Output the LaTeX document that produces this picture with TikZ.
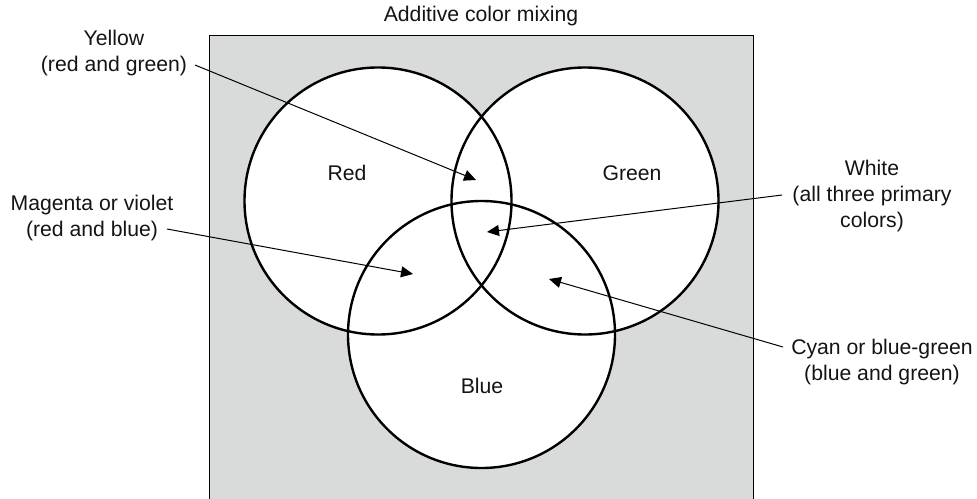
\documentclass[tikz,border=0pt]{standalone}
\usepackage{fontspec}
\setmainfont{Liberation Sans}
\usetikzlibrary{arrows.meta}
\definecolor{boxgray}{RGB}{217,219,218}
\definecolor{inkc}{RGB}{20,20,20}
\tikzset{
  lbl/.style={font=\fontsize{10.6pt}{13pt}\selectfont, text=inkc, align=center, inner sep=0pt},
  ring/.style={draw=black, line width=1.2pt},
  pointer/.style={draw=black, line width=0.5pt, -{Triangle[length=6pt,width=5.5pt]}}
}
\begin{document}
\begin{tikzpicture}[x=0.5pt,y=-0.5pt]
\useasboundingbox (0,0) rectangle (977,498);
% background panel
\fill[boxgray] (209,35) rectangle (753,499);
\draw[line width=0.5pt] (209,499) -- (209,35) -- (753,35) -- (753,499);
% circle interiors
\fill[white] (378,201) circle (133.5);
\fill[white] (585,201) circle (133.5);
\fill[white] (481.5,334.5) circle (133.5);
% circle outlines
\draw[ring] (378,201) circle (133.5);
\draw[ring] (585,201) circle (133.5);
\draw[ring] (481.5,334.5) circle (133.5);
% labels
\node[lbl] (title) at (481,16) {Additive color mixing};
\node[lbl] (red) at (347,173) {Red};
\node[lbl] (green) at (632,173) {Green};
\node[lbl] (blue) at (482,386) {Blue};
\node[lbl] (yel) at (114,53) {Yellow\\(red and green)};
\node[lbl] (mag) at (92,218) {Magenta or violet\\(red and blue)};
\node[lbl] (wht) at (872,196) {White\\(all three primary\\colors)};
\node[lbl] (cyn) at (882,362) {Cyan or blue-green\\(blue and green)};
% connector ends
\coordinate (ys) at (195,65);
\coordinate (yt) at (476,180);
\coordinate (ms) at (167,229);
\coordinate (mt) at (413,274);
\coordinate (ws) at (782,195);
\coordinate (wt) at (487,232);
\coordinate (cs) at (783,347);
\coordinate (ct) at (549,279);
\draw[pointer] (ys) -- (yt);
\draw[pointer] (ms) -- (mt);
\draw[pointer] (ws) -- (wt);
\draw[pointer] (cs) -- (ct);
\end{tikzpicture}
\end{document}
